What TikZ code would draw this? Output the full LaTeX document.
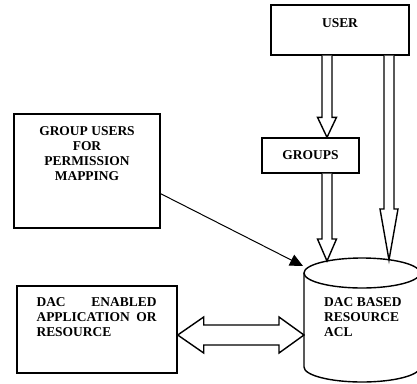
\documentclass[tikz,border=0pt]{standalone}
\usepackage{fontspec}
\setmainfont{Liberation Serif}
\usetikzlibrary{positioning,calc,arrows.meta}

\tikzset{
  box/.style={draw, line width=1.2pt, rectangle, inner sep=0pt},
  lbl/.style={inner sep=0pt, font=\fontsize{11.5}{12.8}\selectfont\bfseries},
  hollow/.style={draw, fill=white, line width=1.2pt, line join=miter},
  solidline/.style={line width=1.2pt},
}

\begin{document}
\begin{tikzpicture}[x=0.03cm, y=0.03cm]
        \useasboundingbox (0,0) rectangle (417,-383);
        \clip (0,0) rectangle (417,-383);

        % Boxes
        \node[box, minimum width=4.14cm, minimum height=1.5cm] (user) at (340,-30) {};
        \node[lbl, below=0.43cm of user.north] (usertxt) {USER};
        \node[box, lbl, minimum width=2.91cm, minimum height=1.05cm] (groups) at (310.5,-155.5) {GROUPS};
        \node[box, minimum width=4.38cm, minimum height=3.42cm] (gum) at (87,-171) {};
        \node[lbl, align=center, below=0.4cm of gum.north] (gumtxt) {GROUP USERS\\FOR\\PERMISSION\\MAPPING};
        \node[box, minimum width=4.8cm, minimum height=2.61cm] (daceb) at (97,-329.5) {};
        \node[lbl, text width=3.6cm, align=left, below right=0.36cm and 0.6cm of daceb.north west] (dacetxt)
          {DAC\hfill ENABLED\\APPLICATION\hfill OR\\RESOURCE};

        % Resource ACL (cylinder)
        \coordinate (acltop) at (362,-273);
        \coordinate (aclbot) at (362,-367);
        \coordinate (aclw) at ($(acltop)+(-58,0)$);
        \draw[solidline] (acltop) ellipse [x radius=1.74cm, y radius=0.45cm];
        \draw[solidline] (aclw) -- ($(aclbot)+(-58,0)$)
          arc [start angle=180, end angle=360, x radius=1.74cm, y radius=0.45cm] -- ($(acltop)+(58,0)$);
        \node[lbl, align=left, anchor=north west] (acltxt) at (324,-297) {DAC BASED\\RESOURCE\\ACL};

        % Points on the cylinder
        \coordinate (acla) at (327,-261);
        \coordinate (aclb) at (389,-260);
        \coordinate (aclnw) at (303,-266);

        % User -> Groups
        \coordinate (ua) at ($(user.south)+(-13,0)$);
        \coordinate (gt) at (ua |- groups.north);
        \draw[hollow] ($(ua)+(-5,0)$) -- ($(gt)+(-5,20)$) -- ($(gt)+(-9.5,20)$) -- (gt)
          -- ($(gt)+(9.5,20)$) -- ($(gt)+(5,20)$) -- ($(ua)+(5,0)$);

        % Groups -> ACL
        \coordinate (ga) at (ua |- groups.south);
        \draw[hollow] ($(ga)+(-5,0)$) -- ($(acla)+(-5,22)$) -- ($(acla)+(-9.5,22)$) -- (acla)
          -- ($(acla)+(9.5,22)$) -- ($(acla)+(5,22)$) -- ($(ga)+(5,0)$);

        % User -> ACL
        \coordinate (ub) at ($(user.south)+(49,0)$);
        \draw[hollow] ($(ub)+(-5,0)$) -- ($(aclb)+(-5,51)$) -- ($(aclb)+(-9,51)$) -- (aclb)
          -- ($(aclb)+(9,51)$) -- ($(aclb)+(5,51)$) -- ($(ub)+(5,0)$);

        % Group users -> ACL
        \draw[line width=0.85pt, -{Triangle[length=0.39cm, width=0.36cm]}]
          ($(gum.south east)+(0,35)$) -- (aclnw);

        % Application <-> ACL
        \coordinate (dl) at ($(daceb.east)+(0,-5.5)$);
        \coordinate (dr) at (dl -| aclw);
        \draw[hollow] (dl) -- ($(dl)+(26,18)$) -- ($(dl)+(26,10)$) -- ($(dr)+(-25,10)$)
          -- ($(dr)+(-25,18)$) -- (dr) -- ($(dr)+(-25,-18)$) -- ($(dr)+(-25,-10)$)
          -- ($(dl)+(26,-10)$) -- ($(dl)+(26,-18)$) -- cycle;
    \end{tikzpicture}
\end{document}
